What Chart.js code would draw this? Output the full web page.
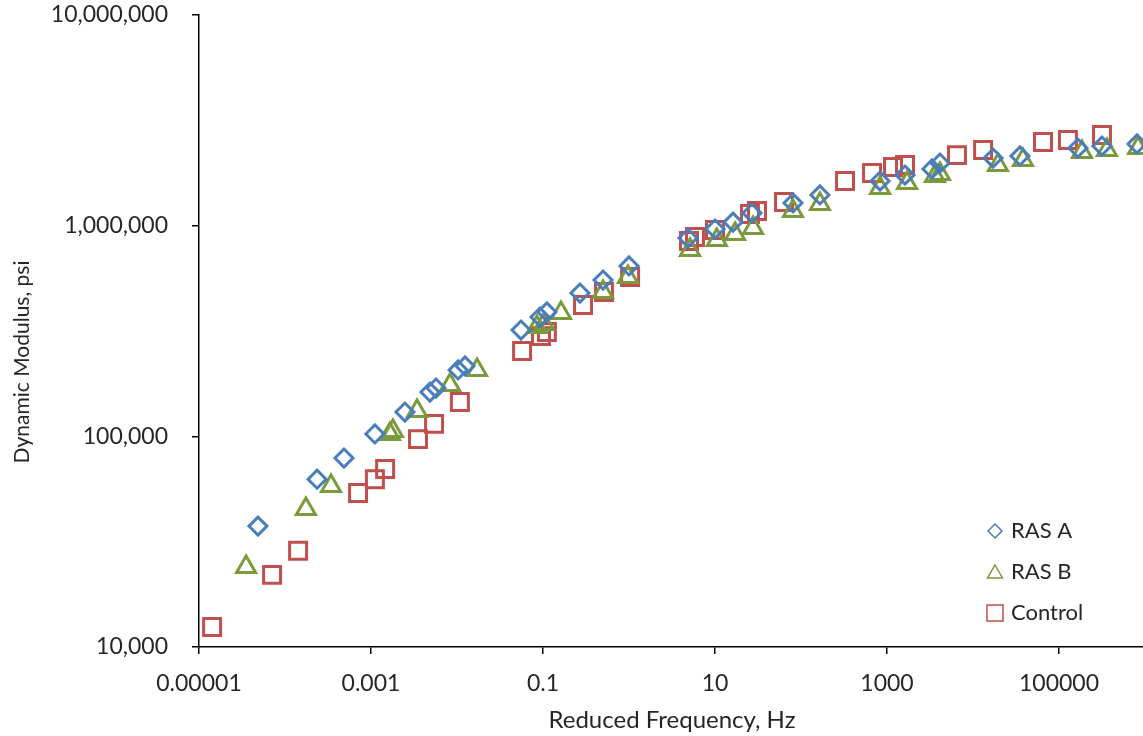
<!DOCTYPE html>
<html>
<head>
<meta charset="utf-8">
<script src="https://cdn.jsdelivr.net/npm/chart.js@4.4.0/dist/chart.umd.min.js"></script>
<style>
    html, body { margin: 0; padding: 0; background: #fff; overflow: hidden; }
</style>
</head>
<body>
<canvas id="myChart" width="1160" height="736"></canvas>
<script>
// reduced frequency (Hz) and dynamic modulus (psi)
var rasAFreq = [4.85e-5, 2.36e-4, 4.85e-4, 1.11e-3, 2.48e-3, 4.85e-3, 5.70e-3, 0.0103, 0.0124, 0.0555,
    0.0923, 0.111, 0.269, 0.499, 1.0, 4.85, 10, 16.2, 26.9, 80.7,
    166, 830, 1620, 3330, 4130, 17100, 35200, 166000, 316000, 807000];
var rasAModulus = [37500, 62600, 78900, 102600, 130400, 162300, 169500, 206500, 215800, 319600,
    368500, 389300, 478900, 552000, 643700, 873600, 964000, 1040000, 1148000, 1282000,
    1399000, 1629000, 1739000, 1858000, 1983000, 2094000, 2142000, 2337000, 2388000, 2442000];

var rasBFreq = [3.53e-5, 1.75e-4, 3.43e-4, 1.66e-3, 1.80e-3, 3.43e-3, 8.30e-3, 0.0171, 0.0851, 0.103,
    0.162, 0.499, 0.972, 5.12, 10.5, 17.1, 27.7, 80.7, 166, 830,
    1710, 3610, 4130, 19500, 38100, 185000, 361000, 830000];
var rasBModulus = [24000, 45200, 58100, 102600, 106000, 131900, 175400, 206500, 330000, 341000,
    384500, 484000, 570000, 766000, 855000, 912000, 975000, 1175000, 1268000, 1510000,
    1596000, 1722000, 1758000, 1941000, 2050000, 2239000, 2285000, 2337000];

var controlFreq = [1.42e-5, 7.07e-5, 1.42e-4, 7.07e-4, 1.11e-3, 1.46e-3, 3.52e-3, 5.41e-3, 0.0108, 0.0571,
    0.0948, 0.111, 0.292, 0.512, 1.03, 4.99, 5.85, 10, 25.5, 30.8,
    63.4, 325, 670, 1175, 1620, 6510, 13100, 65200, 127000, 316000];
var controlModulus = [12450, 22000, 28600, 53800, 62600, 70000, 97000, 114600, 145500, 254000,
    299000, 312500, 420000, 484000, 570000, 845000, 883000, 953000, 1135000, 1175000,
    1295000, 1629000, 1778000, 1897000, 1941000, 2162000, 2285000, 2495000, 2552000, 2692000];

var seriesNames = ['RAS A', 'RAS B', 'Control'];

var xTickValues = [0.00001, 0.001, 0.1, 10, 1000, 100000];
var xTickLabels = ['0.00001', '0.001', '0.1', '10', '1000', '100000'];
var yTickValues = [10000, 100000, 1000000, 10000000];
var yTickLabels = ['10,000', '100,000', '1,000,000', '10,000,000'];

var xTitle = 'Reduced Frequency, Hz';
var yTitle = 'Dynamic Modulus, psi';

var textColor = '#262626';
var fontName = 'Lato, "Liberation Sans", sans-serif';

function toPoints(xs, ys) {
    return xs.map(function (x, i) { return { x: x, y: ys[i] }; });
}

// y axis title and the legend box in the lower right corner
var extrasPlugin = {
    id: 'extras',
    afterDraw: function (chart) {
        var ctx = chart.ctx;
        ctx.save();
        ctx.translate(22, 362);
        ctx.rotate(-Math.PI / 2);
        ctx.font = '21px ' + fontName;
        ctx.fillStyle = textColor;
        ctx.textAlign = 'center';
        ctx.textBaseline = 'middle';
        ctx.fillText(yTitle, 0, 0);
        ctx.restore();

        var lx = 995, ly = 531, step = 41;
        chart.data.datasets.forEach(function (ds, i) {
            var cy = ly + i * step;
            ctx.save();
            ctx.strokeStyle = ds.borderColor;
            ctx.lineWidth = 1.5;
            ctx.beginPath();
            if (ds.pointStyle === 'rectRot') {
                ctx.moveTo(lx, cy - 7); ctx.lineTo(lx + 7, cy); ctx.lineTo(lx, cy + 7); ctx.lineTo(lx - 7, cy);
                ctx.closePath();
            } else if (ds.pointStyle === 'triangle') {
                ctx.moveTo(lx, cy - 7); ctx.lineTo(lx + 7.5, cy + 6); ctx.lineTo(lx - 7.5, cy + 6);
                ctx.closePath();
            } else {
                ctx.rect(lx - 8, cy - 8, 16, 16);
            }
            ctx.stroke();
            ctx.fillStyle = textColor;
            ctx.font = '22px ' + fontName;
            ctx.textAlign = 'left';
            ctx.textBaseline = 'middle';
            ctx.fillText(ds.label, lx + 16, cy);
            ctx.restore();
        });
    }
};

var ctx = document.getElementById('myChart').getContext('2d');

var myChart = new Chart(ctx, {
    type: 'scatter',
    data: {
        datasets: [{
            label: seriesNames[0],
            data: toPoints(rasAFreq, rasAModulus),
            pointStyle: 'rectRot',
            pointRadius: 9,
            borderColor: '#4a7ebb',
            backgroundColor: 'rgba(0,0,0,0)',
            borderWidth: 3
        }, {
            label: seriesNames[1],
            data: toPoints(rasBFreq, rasBModulus),
            pointStyle: 'triangle',
            pointRadius: 11,
            borderColor: '#7a9a3c',
            backgroundColor: 'rgba(0,0,0,0)',
            borderWidth: 3
        }, {
            label: seriesNames[2],
            data: toPoints(controlFreq, controlModulus),
            pointStyle: 'rect',
            pointRadius: 12,
            borderColor: '#c0504d',
            backgroundColor: 'rgba(0,0,0,0)',
            borderWidth: 3
        }]
    },
    options: {
        responsive: false,
        animation: false,
        layout: { padding: { top: 15, right: 15, bottom: 0, left: 0 } },
        plugins: {
            legend: { display: false },
            tooltip: { enabled: false }
        },
        scales: {
            x: {
                type: 'logarithmic',
                min: 0.00001,
                max: 1000000,
                afterBuildTicks: function (scale) {
                    scale.ticks = xTickValues.map(function (v) { return { value: v }; });
                },
                afterFit: function (scale) {
                    scale.height = 89;
                    scale.paddingLeft = 0;
                    scale.paddingRight = 0;
                },
                ticks: {
                    autoSkip: false,
                    maxRotation: 0,
                    padding: 16,
                    color: textColor,
                    font: { family: fontName, size: 23 },
                    callback: function (v) { return xTickLabels[xTickValues.indexOf(v)]; }
                },
                grid: { drawOnChartArea: false, drawTicks: true, tickLength: 7, color: '#000', lineWidth: 1.5 },
                border: { display: true, color: '#000', width: 1.5 },
                title: {
                    display: true,
                    text: xTitle,
                    color: textColor,
                    font: { family: fontName, size: 24 },
                    padding: { top: 0, bottom: 1 }
                }
            },
            y: {
                type: 'logarithmic',
                min: 10000,
                max: 10000000,
                afterBuildTicks: function (scale) {
                    scale.ticks = yTickValues.map(function (v) { return { value: v }; });
                },
                afterFit: function (scale) {
                    scale.width = 199;
                    scale.paddingTop = 0;
                    scale.paddingBottom = 0;
                },
                ticks: {
                    padding: 24,
                    color: textColor,
                    font: { family: fontName, size: 23 },
                    callback: function (v) { return yTickLabels[yTickValues.indexOf(v)]; }
                },
                grid: { drawOnChartArea: false, drawTicks: true, tickLength: 7, color: '#000', lineWidth: 1.5 },
                border: { display: true, color: '#000', width: 1.5 }
            }
        }
    },
    plugins: [extrasPlugin]
});
</script>
</body>
</html>
